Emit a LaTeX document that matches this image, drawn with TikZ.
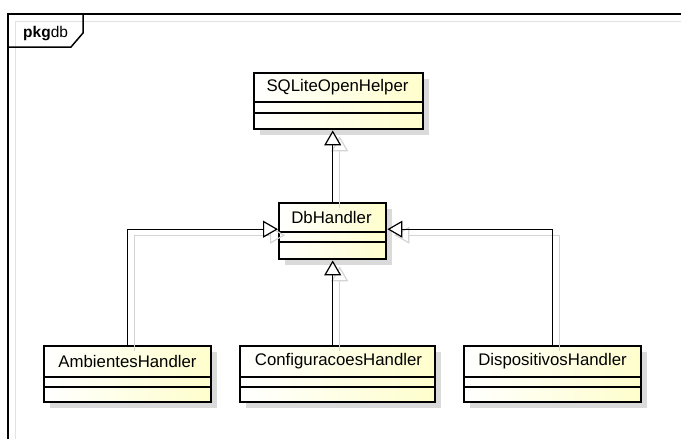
\documentclass[tikz,border=0pt]{standalone}
\usepackage{fontspec}
\setmainfont{Liberation Sans}
\usetikzlibrary{arrows.meta,calc}
\definecolor{classfill}{RGB}{254,254,204}
\definecolor{boxshadow}{RGB}{218,218,218}
\definecolor{lineshadow}{RGB}{212,212,212}
\definecolor{frameshadow}{RGB}{226,226,226}
\begin{document}
\begin{tikzpicture}[x=1pt,y=-1pt,
  classbox/.style={draw, line width=2.4pt, left color=white, right color=classfill, inner sep=0pt, minimum height=56pt, anchor=north west},
  shadowbox/.style={fill=boxshadow, draw=none, inner sep=0pt, minimum height=56pt, anchor=north west},
  classname/.style={font=\fontsize{16.8}{20}\selectfont, inner sep=0pt},
  divider/.style={line width=1.2pt},
  gen/.style={line width=1.2pt, -{Triangle[fill=white, length=15pt, width=17pt]}},
  genshadow/.style={line width=1.2pt, lineshadow, -{Triangle[open, length=15pt, width=17pt]}, transform canvas={shift={(7pt,-6pt)}}},
]
\useasboundingbox (0,0) rectangle (681,439);
% frame
\draw[frameshadow, line width=1pt] (15.5,439) -- (15.5,21) -- (681,21);
\draw[line width=1.5pt] (8,439) -- (8,14) -- (681,14);
\draw[line width=1.5pt] (83,14) -- (83,33) -- (71,47) -- (8,47);
\node[anchor=base west, inner sep=0pt, font=\fontsize{15.5}{18}\selectfont] (pkg) at (23,37) {\textbf{pkg}db};

% shadows of the classes
\node[shadowbox, minimum width=169pt] (sqlsh) at (260,79) {};
\node[shadowbox, minimum width=107pt] (dbsh) at (285,209) {};
\node[shadowbox, minimum width=167pt] (ambsh) at (50,352) {};
\node[shadowbox, minimum width=195pt] (confsh) at (246,352) {};
\node[shadowbox, minimum width=177pt] (dispsh) at (470,352) {};

% classes
\node[classbox, minimum width=169pt] (sql) at (253,72) {};
\node[classbox, minimum width=107pt] (db) at (278,202) {};
\node[classbox, minimum width=167pt] (amb) at (43,345) {};
\node[classbox, minimum width=195pt] (conf) at (239,345) {};
\node[classbox, minimum width=177pt] (disp) at (463,345) {};

% dividers
\foreach \n/\a/\b in {sql/102/113, db/232/242, amb/377/387, conf/377/387, disp/377/387}{
  \draw[divider] (\n.west |- 0,\a) -- (\n.east |- 0,\a);
  \draw[divider] (\n.west |- 0,\b) -- (\n.east |- 0,\b);
}

% names
\node[classname] (sqlname) at (337.5,87.5) {SQLiteOpenHelper};
\node[classname] (dbname) at (331.5,217.5) {DbHandler};
\node[classname] (ambname) at (127.5,361.5) {AmbientesHandler};
\node[classname] (confname) at (338.5,361.5) {ConfiguracoesHandler};
\node[classname] (dispname) at (552.5,361.5) {DispositivosHandler};

% connector shadows
\draw[genshadow] (db.north) -- (db.north |- sql.south);
\draw[genshadow] (amb.north) |- ([yshift=2pt]db.west);
\draw[genshadow] (disp.north) |- ([yshift=2pt]db.east);
\draw[genshadow] (db.south |- conf.north) -- (db.south);

% connectors
\draw[gen] (db.north) -- (db.north |- sql.south);
\draw[gen] (amb.north) |- ([yshift=2pt]db.west);
\draw[gen] (disp.north) |- ([yshift=2pt]db.east);
\draw[gen] (db.south |- conf.north) -- (db.south);
\end{tikzpicture}
\end{document}
